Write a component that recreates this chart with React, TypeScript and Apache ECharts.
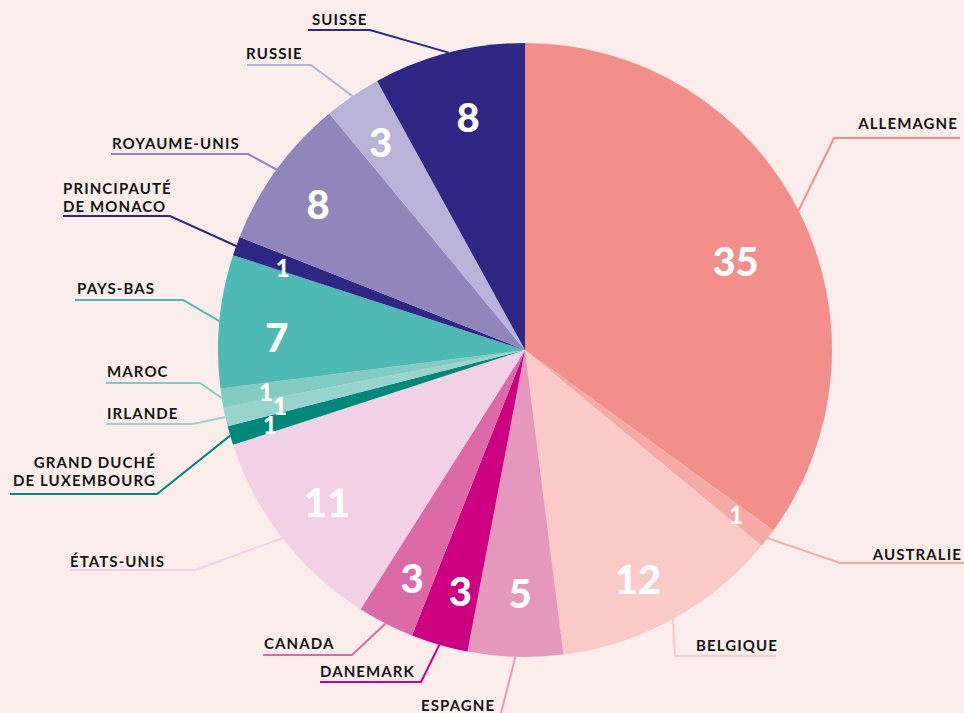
import React, { useEffect, useRef } from "react";
import * as echarts from "echarts";

const NAMES = [
  "ALLEMAGNE",
  "AUSTRALIE",
  "BELGIQUE",
  "ESPAGNE",
  "DANEMARK",
  "CANADA",
  "ÉTATS-UNIS",
  "GRAND DUCHÉ\nDE LUXEMBOURG",
  "IRLANDE",
  "MAROC",
  "PAYS-BAS",
  "PRINCIPAUTÉ\nDE MONACO",
  "ROYAUME-UNIS",
  "RUSSIE",
  "SUISSE",
];
const VALUES = [35, 1, 12, 5, 3, 3, 11, 1, 1, 1, 7, 1, 8, 3, 8];
const COLORS = [
  "#F28F8B",
  "#F5AAA6",
  "#F9CAC6",
  "#E598BC",
  "#CC0080",
  "#DB6AA6",
  "#F2D0E5",
  "#00897B",
  "#98D4CB",
  "#83CBC2",
  "#4FBAB4",
  "#302683",
  "#9086BC",
  "#B9B3DA",
  "#302683",
];

// name label layout: text anchor (x, y), alignment, underline y, outer end x, elbow x
const LABEL_LAYOUT = [
  { x: 958, y: 123, align: "right", lineY: 138, outer: 960, elbow: 834 },
  { x: 962, y: 554, align: "right", lineY: 563, outer: 964, elbow: 840 },
  { x: 778, y: 645, align: "right", lineY: 656, outer: 776, elbow: 675 },
  { x: 421, y: 705, align: "left", lineY: 717, outer: 421, elbow: 500 },
  { x: 320, y: 671, align: "left", lineY: 682, outer: 320, elbow: 421 },
  { x: 264, y: 643, align: "left", lineY: 655, outer: 263, elbow: 352 },
  { x: 70, y: 561, align: "left", lineY: 570, outer: 70, elbow: 195 },
  { x: 156, y: 471, align: "right", lineY: 494, outer: 10, elbow: 157 },
  { x: 107, y: 413, align: "left", lineY: 424, outer: 106, elbow: 193 },
  { x: 107, y: 371, align: "left", lineY: 383, outer: 106, elbow: 200 },
  { x: 77, y: 288, align: "left", lineY: 300, outer: 75, elbow: 183 },
  { x: 63, y: 197, align: "left", lineY: 216, outer: 63, elbow: 170 },
  { x: 112, y: 143, align: "left", lineY: 154, outer: 111, elbow: 248 },
  { x: 246, y: 53, align: "left", lineY: 65, outer: 247, elbow: 311 },
  { x: 312, y: 19, align: "left", lineY: 30, outer: 308, elbow: 370 },
];

// small nudges of the value labels inside the slices
const VALUE_OFFSET = [
  [-15, 26],
  [11, 9],
  [-9, 7],
  [3, -10],
  [6, -2],
  [2, 2],
  [2, -3],
  [-12, 4],
  [2, 0],
  [-9, 2],
  [4, 11],
  [-4, 3],
  [-2, 3],
  [-2, 1],
  [6, 12],
];

const CX = 525;
const CY = 350;
const R = 307;

export default function App() {
  const ref = useRef<HTMLDivElement>(null);

  useEffect(() => {
    document.body.style.margin = "0";
    if (!ref.current) return;
    const chart = echarts.init(ref.current, null, { renderer: "svg" });

    const data = NAMES.map((n, i) => ({
      name: n,
      value: VALUES[i],
      itemStyle: { color: COLORS[i] },
    }));

    const valueData = NAMES.map((n, i) => ({
      name: n,
      value: VALUES[i],
      label: { fontSize: VALUES[i] === 1 ? 24 : 40 },
    }));

    chart.setOption({
      animation: false,
      backgroundColor: "#FBEDEC",
      series: [
        {
          type: "pie",
          center: [CX, CY],
          radius: [0, R],
          startAngle: 90,
          clockwise: true,
          avoidLabelOverlap: false,
          data,
          itemStyle: { borderWidth: 0 },
          label: {
            show: true,
            position: "outside",
            formatter: "{b}",
            color: "#151515",
            fontFamily: "Lato",
            fontWeight: "bold",
            fontSize: 15,
            lineHeight: 18,
          },
          labelLine: {
            show: true,
            length: 10,
            length2: 10,
            smooth: false,
            lineStyle: { width: 2 },
          },
          labelLayout: (params: any) => {
            const L = LABEL_LAYOUT[params.dataIndex];
            const pts = params.labelLinePoints;
            const p0 = pts && pts[0] ? [pts[0][0], pts[0][1]] : null;
            const out: any = {
              x: L.x,
              y: L.y,
              align: L.align,
              verticalAlign: "middle",
              hideOverlap: false,
            };
            if (p0) {
              out.labelLinePoints = [p0, [L.elbow, L.lineY], [L.outer, L.lineY]];
            }
            return out;
          },
        },
        {
          type: "pie",
          center: [CX, CY],
          radius: [R * 0.63, R],
          startAngle: 90,
          clockwise: true,
          silent: true,
          z: 5,
          avoidLabelOverlap: false,
          data: valueData,
          itemStyle: { color: "rgba(0,0,0,0)", borderWidth: 0 },
          label: {
            show: true,
            position: "inside",
            formatter: "{c}",
            color: "#FFFFFF",
            fontFamily: "Lato",
            fontWeight: 900,
          },
          labelLine: { show: false },
          labelLayout: (params: any) => {
            const o = VALUE_OFFSET[params.dataIndex];
            return { dx: o[0], dy: o[1], hideOverlap: false };
          },
          emphasis: { disabled: true },
        },
      ],
    });

    return () => chart.dispose();
  }, []);

  return (
    <>
      <style>{`text[style*="15px"]{letter-spacing:1.1px}`}</style>
      <div ref={ref} style={{ width: 964, height: 713 }} />
    </>
  );
}
